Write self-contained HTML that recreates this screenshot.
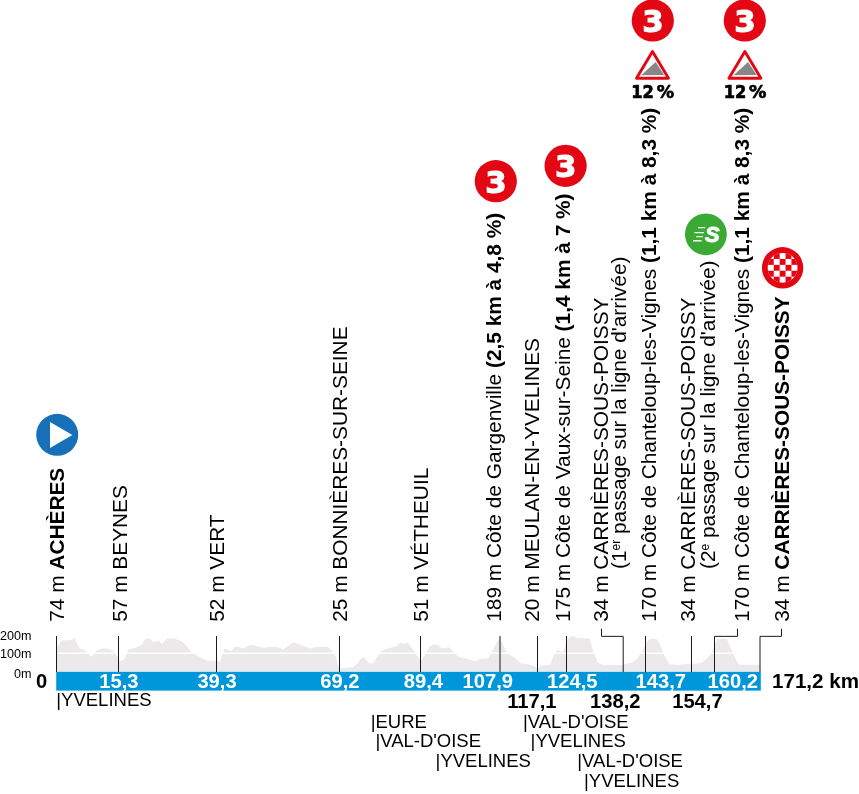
<!DOCTYPE html>
<html lang="fr"><head><meta charset="utf-8"><title>Profil</title>
<style>
html,body{margin:0;padding:0;background:#fff}
svg{display:block;will-change:transform;font-family:"Liberation Sans",Arial,sans-serif}
.lb{font-size:20.85px;fill:#000}
.b{font-weight:bold}
.km{font-size:20.2px;font-weight:bold;fill:#fff;text-anchor:end}
.kmb{font-size:20.2px;font-weight:bold;fill:#000;text-anchor:end}
.dep{font-size:18.5px;fill:#000}
.ax{font-size:12.6px;fill:#000;text-anchor:end}
.n3{font-family:"DejaVu Sans","Liberation Sans",sans-serif;font-weight:bold;fill:#fff;text-anchor:middle}
.pc{font-family:"DejaVu Sans","Liberation Sans",sans-serif;font-weight:bold;fill:#000}
</style></head><body>
<svg width="859" height="794" viewBox="0 0 859 794">

<polygon points="56.2,671.4 56.7,647.5 61.6,640.5 71.5,639.9 74.4,638.1 79.7,648.6 83.8,649.2 91.3,656.8 96.6,650.4 101.2,648.6 108.2,648.6 114,651.5 117.5,656.2 119.8,661.4 124.5,659.1 128,649.8 136.1,647.5 142,644.6 145.2,638.7 149.3,638.4 154,642.2 158,640.5 162.1,644 166.8,638.4 174.9,638.4 181.9,641.6 186.6,645.7 191.2,652.1 198.2,656.2 207.5,660.8 220.3,661.2 224.4,648.6 226.7,648.9 230.8,651 235.2,646.9 238.7,646.9 242.8,648.6 251.5,644.6 263.8,648 268.4,646.9 276.6,646.9 283.6,649.2 293.4,642.2 310.3,648.6 316.1,646.9 328.1,646.9 332.8,651.5 336.3,657.9 338.6,667.3 339.2,668.4 352.6,667.3 356.1,664.9 360.7,659.1 364.2,657 368.9,663.2 373,663.2 381.7,650.4 389.8,648 397.4,645.7 400.3,642.2 403.8,644 407.9,642.2 414.3,651.5 418.7,657.9 421,660.8 425.1,654.4 429.8,646.3 433.3,644.6 437.9,645.1 442,648.6 449.6,647.2 454.2,653.3 458.9,656.8 465.9,658.5 475.2,661.2 479.8,659.1 488,658.5 493.8,647.5 499.9,637.6 501.7,641.6 507,653.3 515.1,657.9 521,663.2 527.9,664.3 534.9,666.3 537.3,669 540.7,665.5 550,664.9 554.7,653.3 558.2,649.2 560.5,652.1 563.4,651.5 566.4,641.6 568.7,637.9 572.8,636.1 576.8,637.9 589.6,638.4 593.1,651 597.8,662.6 601.6,664.7 622.6,664.9 626.1,663.8 631.9,662.6 636.6,659.1 642.4,651 645.9,642.8 649.4,639.3 656.4,638.4 659.8,644 663.3,653.3 669.2,664.3 678.5,664.9 701,663.1 707.9,657.3 711.4,653.8 714.3,645.6 717.3,639.2 726.6,638.6 731.2,649.1 735.9,659.6 739.4,664.8 760.3,664.8 760.3,671.4" fill="#ebe9e9"/>
<rect x="56.2" y="652.5" width="704.5" height="1.4" fill="#fff"/>
<rect x="56.2" y="671.8" width="704.6" height="18.8" fill="#0097da"/>
<rect x="56.0" y="636" width="1" height="36" fill="#1a1a1a"/>
<rect x="118.0" y="636" width="1" height="36" fill="#1a1a1a"/>
<rect x="216.0" y="636" width="1" height="36" fill="#1a1a1a"/>
<rect x="339.0" y="636" width="1" height="36" fill="#1a1a1a"/>
<rect x="420.0" y="636" width="1" height="36" fill="#1a1a1a"/>
<rect x="499.5" y="636" width="1" height="36" fill="#1a1a1a"/>
<rect x="537.0" y="636" width="1" height="36" fill="#1a1a1a"/>
<rect x="566.0" y="636" width="1" height="36" fill="#1a1a1a"/>
<rect x="645.0" y="636" width="1" height="36" fill="#1a1a1a"/>
<rect x="691.0" y="636" width="1" height="36" fill="#1a1a1a"/>
<path d="M601.5 628.8V636.35H623.2V672" fill="none" stroke="#1a1a1a" stroke-width="1"/>
<path d="M737.5 628.8V636.35H714.5V672" fill="none" stroke="#1a1a1a" stroke-width="1"/>
<path d="M781.5 628.8V636.35H760.0V672" fill="none" stroke="#1a1a1a" stroke-width="1"/>
<text class="ax" x="31.5" y="639.8">200m</text>
<text class="ax" x="31.5" y="658.2">100m</text>
<text class="ax" x="31.5" y="677.8">0m</text>
<text x="36" y="687.7" style="font-size:20.2px;font-weight:bold">0</text>
<text x="772" y="687.7" style="font-size:20.6px;font-weight:bold">171,2 km</text>
<text class="km" x="138.5" y="687.7">15,3</text>
<text class="km" x="236.7" y="687.7">39,3</text>
<text class="km" x="359.5" y="687.7">69,2</text>
<text class="km" x="443.0" y="687.7">89,4</text>
<text class="km" x="513.1" y="687.7">107,9</text>
<text class="km" x="597.6" y="687.7">124,5</text>
<text class="km" x="686.1" y="687.7">143,7</text>
<text class="km" x="758.0" y="687.7">160,2</text>
<text class="kmb" x="556.6" y="708.2">117,1</text>
<text class="kmb" x="640.6" y="708.2">138,2</text>
<text class="kmb" x="722.7" y="708.2">154,7</text>
<text class="dep" x="56.3" y="706.3">|YVELINES</text>
<text class="dep" x="370.7" y="727.5">|EURE</text>
<text class="dep" x="375.4" y="747.4">|VAL-D'OISE</text>
<text class="dep" x="435.6" y="767.3">|YVELINES</text>
<text class="dep" x="523" y="727.5">|VAL-D'OISE</text>
<text class="dep" x="530.6" y="747.4">|YVELINES</text>
<text class="dep" x="577.3" y="767.3">|VAL-D'OISE</text>
<text class="dep" x="584" y="787.1">|YVELINES</text>
<text class="lb" transform="translate(64.2 621.8) rotate(-90)">74 m <tspan class="b">ACHÈRES</tspan></text>
<text class="lb" transform="translate(127.0 621.8) rotate(-90)">57 m BEYNES</text>
<text class="lb" transform="translate(224.3 621.8) rotate(-90)">52 m VERT</text>
<text class="lb" transform="translate(347.3 621.8) rotate(-90)">25 m BONNIÈRES-SUR-SEINE</text>
<text class="lb" transform="translate(428.2 621.8) rotate(-90)">51 m VÉTHEUIL</text>
<text class="lb" transform="translate(500.5 621.8) rotate(-90)">189 m Côte de Gargenville <tspan class="b">(2,5 km à 4,8 %)</tspan></text>
<text class="lb" transform="translate(539.1 621.8) rotate(-90)">20 m MEULAN-EN-YVELINES</text>
<text class="lb" transform="translate(569.8 621.8) rotate(-90)">175 m Côte de Vaux-sur-Seine <tspan class="b">(1,4 km à 7 %)</tspan></text>
<text class="lb" transform="translate(607.6 621.8) rotate(-90)">34 m CARRIÈRES-SOUS-POISSY</text>
<text class="lb" transform="translate(626.0 569.0) rotate(-90)">(1<tspan dy="-6.5" font-size="12">er</tspan><tspan dy="6.5"> passage sur la ligne d'arrivée)</tspan></text>
<text class="lb" transform="translate(656.1 621.8) rotate(-90)">170 m Côte de Chanteloup-les-Vignes <tspan class="b">(1,1 km à 8,3 %)</tspan></text>
<text class="lb" transform="translate(694.7 621.8) rotate(-90)">34 m CARRIÈRES-SOUS-POISSY</text>
<text class="lb" transform="translate(715.0 569.0) rotate(-90)">(2<tspan dy="-6.5" font-size="12">e</tspan><tspan dy="6.5"> passage sur la ligne d'arrivée)</tspan></text>
<text class="lb" transform="translate(749.2 621.8) rotate(-90)">170 m Côte de Chanteloup-les-Vignes <tspan class="b">(1,1 km à 8,3 %)</tspan></text>
<text class="lb" transform="translate(789.4 621.8) rotate(-90)">34 m <tspan class="b">CARRIÈRES-SOUS-POISSY</tspan></text>
<circle cx="57.2" cy="434.8" r="21" fill="#1770b8"/>
<polygon points="50,421.9 50,448.1 72.4,435" fill="#fff"/>
<circle cx="495.8" cy="181.2" r="21.1" fill="#e30613"/><text class="n3" x="495.90000000000003" y="192.7" font-size="30.8" stroke="#fff" stroke-width="1.1" stroke-linejoin="miter">3</text>
<circle cx="565.6" cy="165.8" r="21.1" fill="#e30613"/><text class="n3" x="565.7" y="177.3" font-size="30.8" stroke="#fff" stroke-width="1.1" stroke-linejoin="miter">3</text>
<circle cx="652.8" cy="20.5" r="21.1" fill="#e30613"/><text class="n3" x="652.9" y="32.0" font-size="30.8" stroke="#fff" stroke-width="1.1" stroke-linejoin="miter">3</text>
<circle cx="744.8" cy="20.5" r="21.1" fill="#e30613"/><text class="n3" x="744.9" y="32.0" font-size="30.8" stroke="#fff" stroke-width="1.1" stroke-linejoin="miter">3</text>
<polygon points="652.5,51.5 636.5,78.2 668.5,78.2" fill="#fff" stroke="#e30613" stroke-width="2.9" stroke-linejoin="round"/><polygon points="641.2,75.3 655.6,62.1 664.3,75.1" fill="#878787"/><text class="pc" y="97.5" font-size="18.2" stroke="#000" stroke-width="0.7"><tspan x="631.3" textLength="22.6" lengthAdjust="spacingAndGlyphs">12</tspan><tspan x="650.6" textLength="23.4" lengthAdjust="spacingAndGlyphs"> %</tspan></text>
<polygon points="744.9,51.5 728.9,78.2 760.9,78.2" fill="#fff" stroke="#e30613" stroke-width="2.9" stroke-linejoin="round"/><polygon points="733.6,75.3 748.0,62.1 756.6999999999999,75.1" fill="#878787"/><text class="pc" y="97.5" font-size="18.2" stroke="#000" stroke-width="0.7"><tspan x="723.6999999999999" textLength="22.6" lengthAdjust="spacingAndGlyphs">12</tspan><tspan x="743.0" textLength="23.4" lengthAdjust="spacingAndGlyphs"> %</tspan></text>
<circle cx="705.9" cy="234.3" r="20.9" fill="#3aaa35"/>
<text transform="translate(705.0 242) scale(1.03 1)" style="font-size:21.2px;font-weight:bold;font-style:italic;fill:#fff;stroke:#fff;stroke-width:0.9px">S</text>
<path d="M698 227.6H705.2M694.4 232.6H703.9M696.4 236.6H702.9M693.1 240.8H701.6" stroke="#fff" stroke-width="1.4" fill="none"/>
<circle cx="782.6" cy="267.8" r="20.7" fill="#e30613"/>
<clipPath id="cf"><circle cx="782.6" cy="267.8" r="14.9"/></clipPath>
<g clip-path="url(#cf)"><rect x="766.6" y="251.8" width="32" height="32" fill="#fff"/><rect x="773.75" y="253.05" width="5.9" height="5.9" fill="#e30613"/><rect x="785.55" y="253.05" width="5.9" height="5.9" fill="#e30613"/><rect x="767.85" y="258.95" width="5.9" height="5.9" fill="#e30613"/><rect x="779.65" y="258.95" width="5.9" height="5.9" fill="#e30613"/><rect x="791.45" y="258.95" width="5.9" height="5.9" fill="#e30613"/><rect x="773.75" y="264.85" width="5.9" height="5.9" fill="#e30613"/><rect x="785.55" y="264.85" width="5.9" height="5.9" fill="#e30613"/><rect x="767.85" y="270.75" width="5.9" height="5.9" fill="#e30613"/><rect x="779.65" y="270.75" width="5.9" height="5.9" fill="#e30613"/><rect x="791.45" y="270.75" width="5.9" height="5.9" fill="#e30613"/><rect x="773.75" y="276.65" width="5.9" height="5.9" fill="#e30613"/><rect x="785.55" y="276.65" width="5.9" height="5.9" fill="#e30613"/></g>
</svg></body></html>
